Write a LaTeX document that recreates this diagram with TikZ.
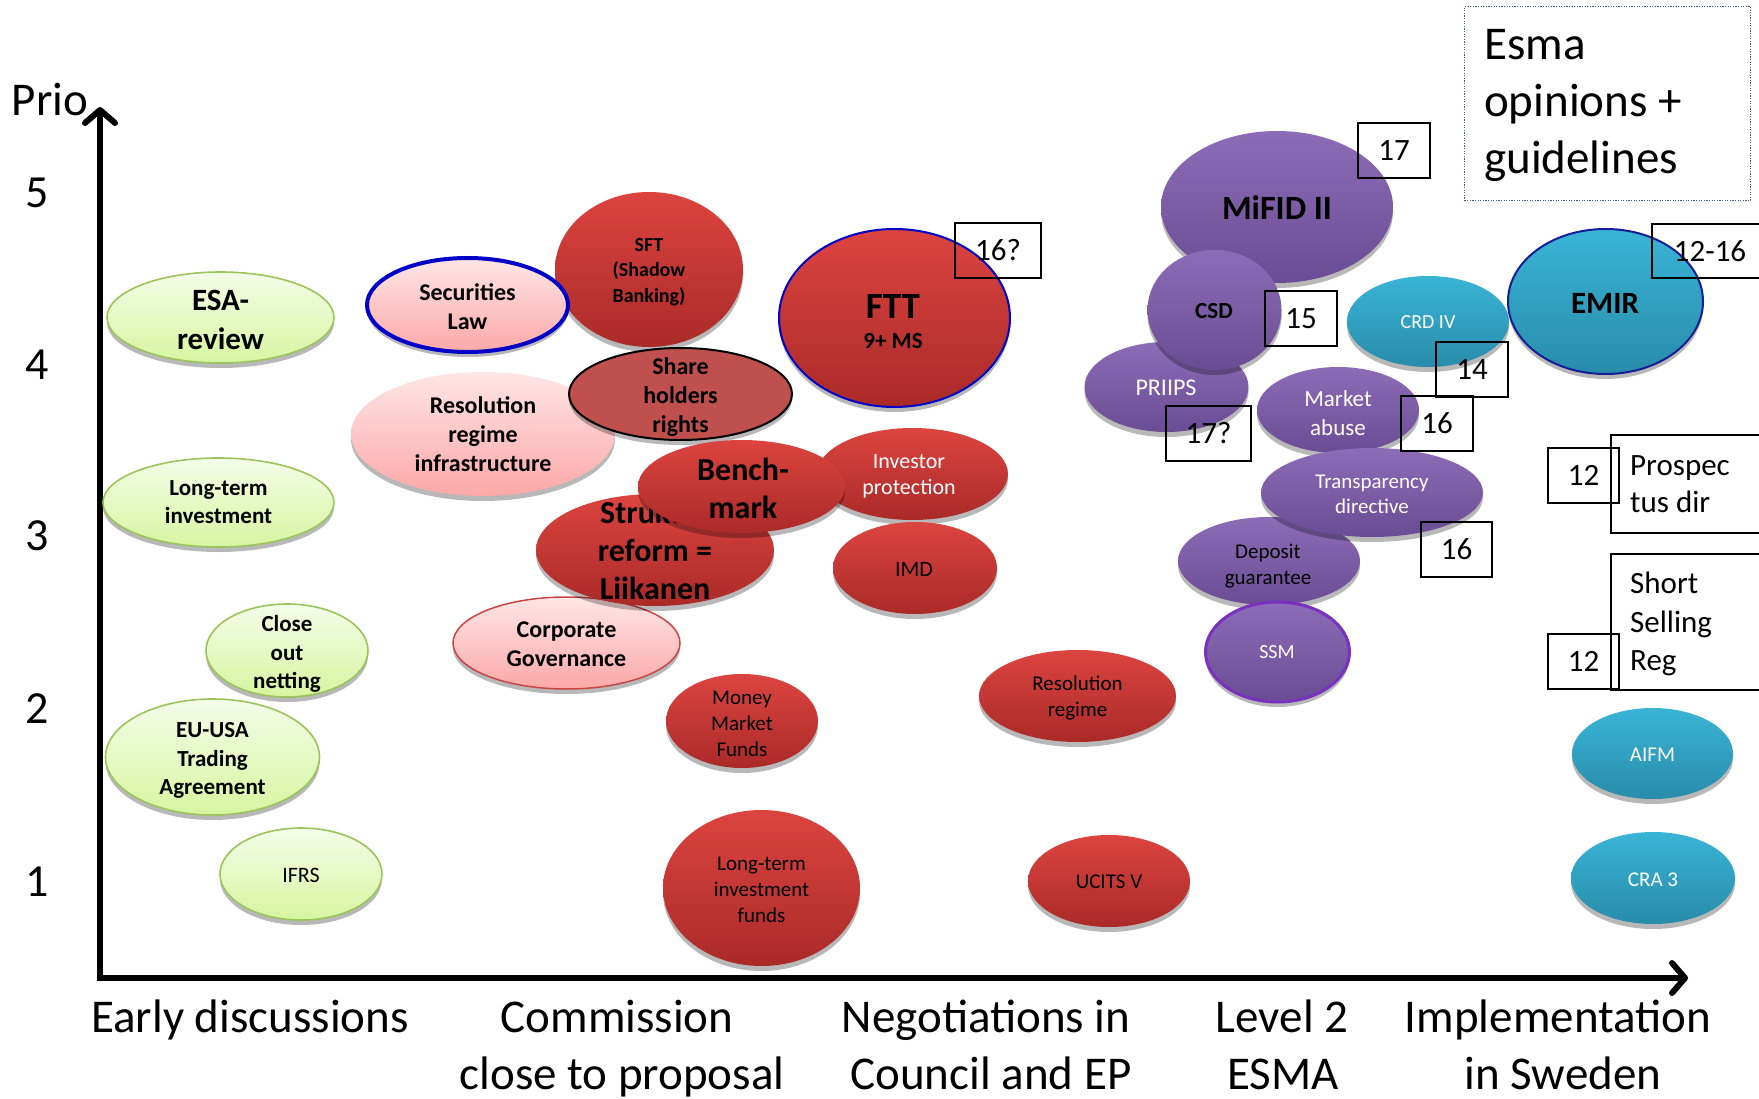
\documentclass[tikz,border=0pt]{standalone}
\usepackage{fontspec}
\setmainfont{Carlito}
\usetikzlibrary{shapes.geometric,shadows,arrows.meta}
\definecolor{gTop}{RGB}{244,252,232}
\definecolor{gBot}{RGB}{214,246,160}
\definecolor{gLine}{RGB}{155,196,90}
\definecolor{pTop}{RGB}{255,230,230}
\definecolor{pBot}{RGB}{252,168,168}
\definecolor{pLine}{RGB}{200,70,70}
\definecolor{rTop}{RGB}{220,68,64}
\definecolor{rBot}{RGB}{170,42,40}
\definecolor{shr}{RGB}{192,80,77}
\definecolor{uTop}{RGB}{140,108,182}
\definecolor{uBot}{RGB}{106,76,148}
\definecolor{uLine}{RGB}{120,50,190}
\definecolor{tTop}{RGB}{58,180,214}
\definecolor{tBot}{RGB}{40,140,170}
\definecolor{blueLine}{RGB}{0,0,200}
\definecolor{navyLine}{RGB}{20,30,150}
\definecolor{dotc}{RGB}{60,90,140}
\newcommand\fz[2]{\fontsize{#1}{#2}\selectfont}
\tikzset{
  bubble/.style={ellipse, inner sep=0pt, outer sep=0pt,
    drop shadow={shadow xshift=0pt, shadow yshift=-5pt, opacity=0.28, fill=black}},
  gbub/.style={bubble, top color=gTop, bottom color=gBot, draw=gLine, line width=1.6pt},
  pbub/.style={bubble, top color=pTop, bottom color=pBot},
  rbub/.style={bubble, top color=rTop, bottom color=rBot},
  ubub/.style={bubble, top color=uTop, bottom color=uBot},
  tbub/.style={bubble, top color=tTop, bottom color=tBot},
  txt/.style={align=center, inner sep=0pt},
  numbox/.style={draw, line width=1.6pt, inner sep=0pt, font=\fz{31}{37}},
  axl/.style={anchor=base, inner sep=0pt, font=\fz{47}{56}},
  axisline/.style={line width=6pt, line join=miter,
    {Straight Barb[round,length=13pt,width=30pt]}-{Straight Barb[round,length=13pt,width=30pt]}}
}
\begin{document}
\begin{tikzpicture}[x=1pt,y=-1pt]
\useasboundingbox (0,0) rectangle (1759,1099);
\clip (0,0) rectangle (1759,1099);
\fill[white] (0,0) rectangle (1759,1099);

% axes
\coordinate (ytop) at (100,107);
\coordinate (origin) at (100,978);
\coordinate (xend) at (1688,978);
\draw[axisline] (ytop) -- (origin) -- (xend);

\node[txt, font=\fz{47}{50}] (prio) at (50,99) {Prio};
\node[txt, font=\fz{46}{50}] (t5) at (37,193) {5};
\node[txt, font=\fz{46}{50}] (t4) at (37,365) {4};
\node[txt, font=\fz{46}{50}] (t3) at (37,536) {3};
\node[txt, font=\fz{46}{50}] (t2) at (37,709) {2};
\node[txt, font=\fz{46}{50}] (t1) at (37,882) {1};

\node[axl] (xa1) at (250,1032) {Early discussions};
\node[axl] (xb1) at (617,1032) {Commission};
\node[axl] (xb2) at (622,1089) {close to proposal};
\node[axl] (xc1) at (986,1032) {Negotiations in};
\node[axl] (xc2) at (991,1089) {Council and EP};
\node[axl] (xd1) at (1282,1032) {Level 2};
\node[axl] (xd2) at (1283,1089) {ESMA};
\node[axl] (xe1) at (1558,1032) {Implementation};
\node[axl] (xe2) at (1563,1089) {in Sweden};

% Esma box
\node[draw=dotc, dash pattern=on 1.2pt off 1.4pt, line width=1.3pt, minimum width=286pt, minimum height=194pt, anchor=north west, inner sep=0pt] (esmabox) at (1464,6) {};
\node[anchor=base west, inner sep=0pt, font=\fz{47}{56}] (es1) at (1484,60) {Esma};
\node[anchor=base west, inner sep=0pt, font=\fz{47}{56}] (es2) at (1484,117) {opinions +};
\node[anchor=base west, inner sep=0pt, font=\fz{47}{56}] (es3) at (1484,174) {guidelines};

% green bubbles
\node[gbub, minimum width=227pt, minimum height=91pt] (esa) at (220.5,317.5) {};
\node[txt, font=\fz{31}{39}\bfseries] (esa-t) at (220.5,320) {ESA-\\review};
\node[gbub, minimum width=231pt, minimum height=89pt] (ltinv) at (218.5,502.5) {};
\node[txt, font=\fz{23}{28}\bfseries] (ltinv-t) at (218.5,502) {Long-term\\investment};
\node[gbub, minimum width=162pt, minimum height=93pt] (close) at (287,650.5) {};
\node[txt, font=\fz{23}{28.5}\bfseries] (close-t) at (287,654) {Close\\out\\netting};
\node[gbub, minimum width=214pt, minimum height=116pt] (euusa) at (212.5,757) {};
\node[txt, font=\fz{23}{28.5}\bfseries] (euusa-t) at (212.5,760.5) {EU-USA\\Trading\\Agreement};
\node[gbub, minimum width=162pt, minimum height=92pt] (ifrs) at (301,874) {};
\node[txt, font=\fz{22}{26}] (ifrs-t) at (301,875) {IFRS};

% red / pink bubbles
\node[rbub, minimum width=188pt, minimum height=155pt] (sft) at (649,269.5) {};
\node[txt, font=\fz{20}{25.5}\bfseries] (sft-t) at (649,272) {SFT\\(Shadow\\Banking)};
\node[pbub, draw=blueLine, line width=4pt, minimum width=201pt, minimum height=94pt] (sec) at (467.5,305) {};
\node[txt, font=\fz{24}{29}\bfseries] (sec-t) at (467.5,307) {Securities\\Law};
\node[pbub, minimum width=264pt, minimum height=124pt] (resinf) at (483,434) {};
\node[txt, font=\fz{24}{29}\bfseries] (resinf-t) at (resinf) {Resolution\\regime\\infrastructure};
\node[bubble, fill=shr, draw=black, line width=2pt, minimum width=223pt, minimum height=92pt] (share) at (680.5,394) {};
\node[txt, font=\fz{24}{29}\bfseries] (share-t) at (680.5,397.5) {Share\\holders\\rights};
\node[pbub, draw=pLine, line width=1.5pt, minimum width=227pt, minimum height=92pt] (corp) at (566.5,643) {};
\node[txt, font=\fz{24}{29}\bfseries] (corp-t) at (566.5,644.5) {Corporate\\Governance};
\node[rbub, minimum width=238pt, minimum height=112pt] (struk) at (655,550) {};
\node[txt, font=\fz{32}{38}\bfseries] (struk-t) at (655,550) {Struktur\\reform =\\Liikanen};
\node[rbub, minimum width=191pt, minimum height=92pt] (inv) at (912.5,474) {};
\node[txt, font=\fz{22}{26}, text=white] (inv-t) at (909,476.5) {Investor\\protection};
\node[rbub, minimum width=207pt, minimum height=93pt] (bench) at (741.5,486.5) {};
\node[txt, font=\fz{32}{38}\bfseries] (bench-t) at (743,488) {Bench-\\mark};
\node[rbub, draw=blueLine, line width=2pt, minimum width=231pt, minimum height=178pt] (ftt) at (894.5,318) {};
\node[txt, font=\fz{37}{40}\bfseries] (ftt-t1) at (893,307) {FTT};
\node[txt, font=\fz{23}{26}\bfseries] (ftt-t2) at (893,341) {9+ MS};
\node[rbub, minimum width=164pt, minimum height=92pt] (imd) at (915,568) {};
\node[txt, font=\fz{22}{26}] (imd-t) at (914,569) {IMD};
\node[rbub, minimum width=152pt, minimum height=94pt] (mmf) at (742,721) {};
\node[txt, font=\fz{21}{26}] (mmf-t) at (742,723.5) {Money\\Market\\Funds};
\node[rbub, minimum width=197pt, minimum height=156pt] (ltif) at (761.5,888) {};
\node[txt, font=\fz{21}{26}] (ltif-t) at (761.5,889.5) {Long-term\\investment\\funds};
\node[rbub, minimum width=197pt, minimum height=92pt] (resreg) at (1077.5,696) {};
\node[txt, font=\fz{21}{26}] (resreg-t) at (1077.5,698) {Resolution\\regime};
\node[rbub, minimum width=162pt, minimum height=92pt] (ucits) at (1109,881) {};
\node[txt, font=\fz{21}{26}] (ucits-t) at (1109,882) {UCITS V};

% purple bubbles
\node[ubub, minimum width=164pt, minimum height=90pt] (priips) at (1166.5,387) {};
\node[txt, font=\fz{24}{28}, text=white] (priips-t) at (1166,388) {PRIIPS};
\node[ubub, minimum width=232pt, minimum height=152pt] (mifid) at (1277,207) {};
\node[txt, font=\fz{34}{40}\bfseries] (mifid-t) at (1277,208) {MiFID II};
\node[ubub, minimum width=134pt, minimum height=120pt] (csd) at (1214.5,310) {};
\node[txt, font=\fz{23}{28}\bfseries] (csd-t) at (1214,311) {CSD};
\node[ubub, minimum width=162pt, minimum height=86pt] (mab) at (1338,410) {};
\node[txt, font=\fz{23}{29}, text=white] (mab-t) at (1338,413) {Market\\abuse};
\node[ubub, minimum width=182pt, minimum height=88pt] (dep) at (1269,561) {};
\node[txt, font=\fz{21}{26}] (dep-t) at (1268,566) {Deposit\\guarantee};
\node[ubub, minimum width=222pt, minimum height=89pt] (trans) at (1372,492.5) {};
\node[txt, font=\fz{21}{25}, text=white] (trans-t) at (1372,494) {Transparency\\directive};
\node[ubub, draw=uLine, line width=3pt, minimum width=144pt, minimum height=100pt] (ssm) at (1277.5,652) {};
\node[txt, font=\fz{20}{24}, text=white] (ssm-t) at (1277,652) {SSM};

% teal bubbles
\node[tbub, minimum width=162pt, minimum height=91pt] (crd) at (1428,321.5) {};
\node[txt, font=\fz{20}{24}, text=white] (crd-t) at (1428,322) {CRD IV};
\node[tbub, draw=navyLine, line width=2pt, minimum width=195pt, minimum height=145pt] (emir) at (1605.5,301.5) {};
\node[txt, font=\fz{31}{36}\bfseries] (emir-t) at (1605,303) {EMIR};
\node[tbub, minimum width=161pt, minimum height=91pt] (aifm) at (1652.5,753.5) {};
\node[txt, font=\fz{21}{26}, text=white] (aifm-t) at (1652.5,755) {AIFM};
\node[tbub, minimum width=164pt, minimum height=92pt] (cra) at (1653,878) {};
\node[txt, font=\fz{21}{26}, text=white] (cra-t) at (1653,880) {CRA 3};

% number boxes
\node[numbox, minimum width=86pt, minimum height=55pt] (b16q) at (998,250.5) {16?};
\node[numbox, minimum width=72pt, minimum height=55pt] (b17) at (1394,150.5) {17};
\node[numbox, minimum width=72pt, minimum height=55pt] (b15) at (1301,318.5) {15};
\node[numbox, minimum width=72pt, minimum height=55pt] (b14) at (1472,369.5) {14};
\node[numbox, minimum width=85pt, minimum height=55pt] (b17q) at (1208.5,433.5) {17?};
\node[numbox, minimum width=72pt, minimum height=55pt] (b16a) at (1437,423.5) {16};
\node[numbox, minimum width=71pt, minimum height=55pt] (b16b) at (1456.5,549.5) {16};
\node[numbox, minimum width=116pt, minimum height=54pt] (b1216) at (1710,251) {12-16};

% Prospectus / Short selling boxes
\node[draw, line width=1.6pt, inner sep=0pt, minimum width=160pt, minimum height=98pt, anchor=north west] (prosbox) at (1610,434) {};
\node[anchor=base west, inner sep=0pt, font=\fz{31}{37}] (pros1) at (1630,475) {Prospec};
\node[anchor=base west, inner sep=0pt, font=\fz{31}{37}] (pros2) at (1630,512) {tus dir};
\node[numbox, minimum width=71pt, minimum height=55pt] (b12a) at (1583.5,475.5) {12};
\node[draw, line width=1.6pt, inner sep=0pt, minimum width=160pt, minimum height=136pt, anchor=north west] (shortbox) at (1610,553) {};
\node[anchor=base west, inner sep=0pt, font=\fz{31}{37}] (sh1) at (1630,593) {Short};
\node[anchor=base west, inner sep=0pt, font=\fz{31}{37}] (sh2) at (1630,632) {Selling};
\node[anchor=base west, inner sep=0pt, font=\fz{31}{37}] (sh3) at (1630,670) {Reg};
\node[numbox, minimum width=71pt, minimum height=55pt] (b12b) at (1583.5,661.5) {12};
\end{tikzpicture}
\end{document}
